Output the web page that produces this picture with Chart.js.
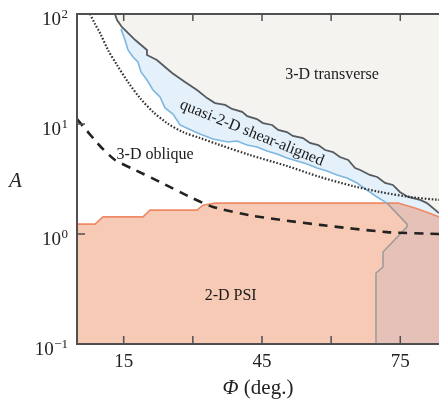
<!DOCTYPE html>
<html>
<head>
<meta charset="utf-8">
<script src="https://cdn.jsdelivr.net/npm/chart.js@4.4.1/dist/chart.umd.min.js"></script>
<style>
  html, body { margin: 0; padding: 0; background: #fff; }
  canvas { display: block; }
</style>
</head>
<body>
<canvas id="regime" width="439" height="409"></canvas>
<script>
// --- axis range (Phi in degrees, A on log scale) ---
const phiMin = 4.87, phiMax = 83.4;
const aMin = 0.1, aMax = 100;
const phiTicks = [15, 30, 45, 60, 75];
const phiLabels = ['15', '', '45', '', '75'];
const aTicks = [0.1, 1, 10, 100];
const aExp = ['\u22121', '0', '1', '2'];

// --- boundaries ---
// dark grey line: lower edge of 3-D transverse
const darkPhi = [13.1, 13.55, 14.6, 17.5, 20.05, 20.05, 22.2, 25.5, 28.3, 30.9, 33.1, 34.8, 37.0, 38.5, 40.7, 41.8, 43.9, 45.2, 47.2, 48.5, 50.4, 51.7, 53.9, 55.4, 57.2, 58.7, 60.4, 61.9, 63.7, 65.2, 66.3, 68.4, 70.0, 71.7, 73.4, 74.9, 76.7, 79.3, 80.8, 83.4];
const darkA = [100, 88.2, 76.2, 58, 47.1, 42.4, 38.2, 29.1, 24.1, 20.4, 17.2, 15.5, 14.9, 13.7, 12.9, 11.8, 11.1, 10.2, 9.8, 8.82, 8.45, 7.78, 7.46, 6.72, 6.44, 5.80, 5.56, 5.01, 4.71, 3.98, 3.82, 3.44, 3.30, 2.91, 2.79, 2.41, 2.17, 2.04, 1.91, 1.55];

// blue line: lower edge of quasi-2-D shear-aligned
const bluePhi = [14.42, 15.28, 15.93, 17.02, 18.10, 18.75, 20.05, 21.36, 22.88, 23.96, 25.70, 27.22, 30.04, 31.55, 34.38, 37.63, 39.58, 41.75, 43.92, 46.09, 48.26, 50.43, 52.60, 54.77, 56.94, 59.11, 61.28, 63.45, 65.61, 67.78, 69.95, 72.13];
const blueA = [73.1, 58.0, 47.1, 40.6, 36.6, 29.7, 25.1, 20.4, 17.6, 14.0, 12.3, 9.8, 8.63, 8.11, 7.31, 6.86, 7.0, 6.44, 6.18, 5.69, 5.34, 4.91, 4.61, 4.33, 3.98, 3.74, 3.44, 3.23, 2.91, 2.51, 2.17, 1.91];

// grey line: same boundary continued inside the 2-D PSI zone
const greyPhi = [72.13, 76.46, 76.46, 71.25, 71.25, 69.73, 69.73];
const greyA = [1.91, 1.23, 1.16, 0.686, 0.501, 0.442, 0.1];

// orange line: top of 2-D PSI
const orangePhi = [4.87, 8.78, 10.51, 19.19, 20.70, 30.90, 32.20, 34.81, 74.50, 78.19, 80.80, 83.40];
const orangeA = [1.23, 1.23, 1.43, 1.43, 1.65, 1.65, 1.83, 1.91, 1.91, 1.72, 1.58, 1.43];

// dotted and dashed curves
const dottedPhi = [7.69, 8.77, 9.86, 11.60, 13.55, 15.93, 18.54, 21.36, 24.40, 27.86, 31.55, 35.89, 42.40, 50.43, 57.59, 64.74, 70.60, 77.10, 83.40];
const dottedA = [100, 81.1, 67.2, 47.1, 34.4, 24.1, 17.2, 12.9, 10.2, 8.45, 7.46, 6.44, 5.22, 4.15, 3.30, 2.73, 2.41, 2.17, 2.04];
const dashedPhi = [4.87, 9.86, 13.11, 17.02, 22.88, 29.39, 34.38, 43.05, 57.59, 72.13, 83.40];
const dashedA = [11.1, 6.31, 4.71, 3.90, 2.97, 2.17, 1.76, 1.46, 1.21, 1.04, 1.0];

const regionLabels = [
  { text: '3-D transverse', phi: 60.2, a: 27.9, rot: 0 },
  { text: 'quasi-2-D shear-aligned', phi: 42.8, a: 8.28, rot: 22 },
  { text: '3-D oblique', phi: 21.8, a: 5.3, rot: 0 },
  { text: '2-D PSI', phi: 38.2, a: 0.273, rot: 0 }
];

const SERIF = '"Liberation Serif", "Times New Roman", serif';

// --- build polygons from the boundaries ---
const pts = (xs, ys) => xs.map((v, i) => ({ x: v, y: ys[i] }));
const dark = pts(darkPhi, darkA);
const blue = pts(bluePhi, blueA);
const grey = pts(greyPhi, greyA);
const orange = pts(orangePhi, orangeA);
const blueEnd = bluePhi[bluePhi.length - 1];
const orangeTail = orange.filter(p => p.x > blueEnd).reverse();

const transverseShape = dark.concat([{ x: phiMax, y: aMax }]);
const bandShape = dark.concat(orangeTail, blue.slice().reverse());
const psiShape = orange.concat([{ x: phiMax, y: aMin }, { x: phiMin, y: aMin }]);
const overlapShape = grey.concat([{ x: phiMax, y: aMin }], orangeTail);

function shape(data, color) {
  return { data, fill: 'shape', backgroundColor: color, borderColor: 'rgba(0,0,0,0)', borderWidth: 0, pointRadius: 0 };
}
function curve(data, color, width, dash, tension) {
  return { data, fill: false, borderColor: color, borderWidth: width, borderDash: dash || [], pointRadius: 0, tension: tension || 0 };
}

// bottom -> top
const datasets = [
  shape(transverseShape, '#f4f3ef'),
  shape(bandShape, '#e4f0fa'),
  shape(psiShape, '#f7cab5'),
  shape(overlapShape, '#e6c1b7'),
  curve(orange, '#ee8a66', 1.6),
  curve(blue, '#7db7e0', 1.6),
  curve(grey, '#a19c9b', 1.6),
  curve(dark, '#565b60', 1.8),
  curve(pts(dottedPhi, dottedA), '#333', 2.2, [1.6, 1.8], 0.3),
  curve(pts(dashedPhi, dashedA), '#222', 2.6, [9, 7], 0.2)
];
datasets.forEach((d, i) => { d.order = datasets.length - i; });

// frame, inward ticks, y labels with exponents, titles, region names
const decorations = {
  id: 'decorations',
  afterDatasetsDraw(chart) {
    const { ctx, chartArea: a, scales: { x, y } } = chart;
    ctx.save();

    ctx.fillStyle = '#1a1a1a';
    ctx.font = '16px ' + SERIF;
    ctx.textAlign = 'center';
    ctx.textBaseline = 'middle';
    regionLabels.forEach(l => {
      ctx.save();
      ctx.translate(x.getPixelForValue(l.phi), y.getPixelForValue(l.a));
      ctx.rotate(l.rot * Math.PI / 180);
      ctx.fillText(l.text, 0, 0);
      ctx.restore();
    });

    ctx.strokeStyle = '#505050';
    ctx.lineWidth = 2;
    ctx.beginPath();
    ctx.moveTo(a.right, a.top);
    ctx.lineTo(a.left, a.top);
    ctx.lineTo(a.left, a.bottom);
    ctx.lineTo(a.right, a.bottom);
    ctx.stroke();

    ctx.lineWidth = 1.5;
    ctx.beginPath();
    phiTicks.forEach(v => {
      const px = x.getPixelForValue(v);
      ctx.moveTo(px, a.bottom); ctx.lineTo(px, a.bottom - 8);
      ctx.moveTo(px, a.top); ctx.lineTo(px, a.top + 7);
    });
    [1, 10].forEach(v => {
      const py = y.getPixelForValue(v);
      ctx.moveTo(a.left, py); ctx.lineTo(a.left + 8, py);
    });
    ctx.stroke();

    ctx.fillStyle = '#222';
    ctx.textAlign = 'right';
    ctx.textBaseline = 'alphabetic';
    aTicks.forEach((v, i) => {
      const py = y.getPixelForValue(v);
      const right = a.left - 9;
      ctx.font = '13px ' + SERIF;
      const ew = ctx.measureText(aExp[i]).width;
      ctx.fillText(aExp[i], right, py + 4);
      ctx.font = '19px ' + SERIF;
      ctx.fillText('10', right - ew - 0.5, py + 11);
    });

    ctx.textAlign = 'center';
    ctx.font = 'italic 21px ' + SERIF;
    ctx.fillText('A', 15.5, 187);

    ctx.textAlign = 'left';
    ctx.font = 'italic 21px ' + SERIF;
    const wPhi = ctx.measureText('\u03A6').width;
    ctx.font = '21px ' + SERIF;
    const wRest = ctx.measureText(' (deg.)').width;
    const start = (a.left + a.right) / 2 - (wPhi + wRest) / 2;
    ctx.font = 'italic 21px ' + SERIF;
    ctx.fillText('\u03A6', start, 394);
    ctx.font = '21px ' + SERIF;
    ctx.fillText(' (deg.)', start + wPhi, 394);

    ctx.restore();
  }
};

new Chart(document.getElementById('regime'), {
  type: 'line',
  data: { datasets },
  options: {
    responsive: false,
    devicePixelRatio: 1,
    animation: false,
    layout: { padding: { top: 14, left: 0, right: 0, bottom: 0 } },
    plugins: { legend: { display: false }, tooltip: { enabled: false } },
    scales: {
      x: {
        type: 'linear',
        min: phiMin,
        max: phiMax,
        afterBuildTicks: s => { s.ticks = phiTicks.map(v => ({ value: v })); },
        afterFit: s => { s.height = 65; },
        grid: { display: false, drawTicks: false },
        border: { display: false },
        ticks: {
          padding: 7,
          color: '#222',
          font: { family: SERIF, size: 19 },
          callback: v => phiLabels[phiTicks.indexOf(v)] || ''
        }
      },
      y: {
        type: 'logarithmic',
        min: aMin,
        max: aMax,
        afterFit: s => { s.width = 77; },
        grid: { display: false, drawTicks: false },
        border: { display: false },
        ticks: { display: false }
      }
    }
  },
  plugins: [decorations]
});
</script>
</body>
</html>
